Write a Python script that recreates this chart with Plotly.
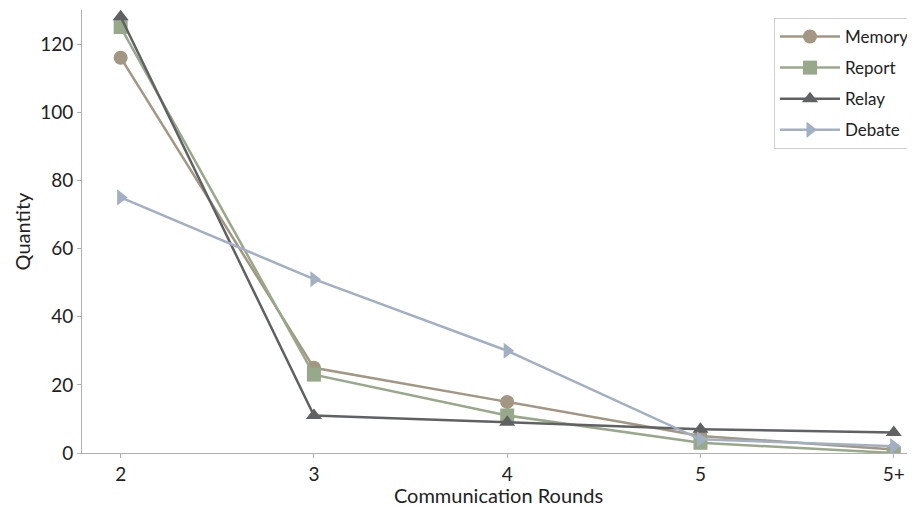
import plotly.graph_objects as go

rounds = ["2", "3", "4", "5", "5+"]
memory = [116, 25, 15, 5, 1]
report = [125, 23, 11, 3, 0]
relay = [128, 11, 9, 7, 6]
debate = [75, 51, 30, 4, 2]

series = [
    ("Memory", memory, "#a39683", "circle"),
    ("Report", report, "#98a88b", "square"),
    ("Relay", relay, "#606163", "triangle-up"),
    ("Debate", debate, "#a3afc2", "triangle-right"),
]

fig = go.Figure()
for name, vals, color, sym in series:
    fig.add_trace(go.Scatter(
        x=rounds, y=vals, name=name, mode="lines+markers",
        legendgroup=name,
        line=dict(color=color, width=2.5),
        marker=dict(symbol=sym, size=14, color=color),
    ))

font_family = "Lato, Open Sans, sans-serif"
fig.update_layout(
    width=907, height=499,
    margin=dict(l=74, r=0, t=2, b=54),
    plot_bgcolor="white", paper_bgcolor="white",
    font=dict(family=font_family, size=19, color="#222"),
    legend=dict(x=1, xanchor="right", y=0.982, yanchor="top",
                bordercolor="#d0d0d0", borderwidth=1,
                font=dict(size=17), itemwidth=60,
                tracegroupgap=6),
    xaxis=dict(
        type="category", range=[-0.2, 4.11],
        title=dict(text="Communication Rounds", font=dict(size=20), standoff=2),
        showline=True, linecolor="#b0b0b0", linewidth=1,
        ticks="outside", ticklen=4, tickcolor="#b0b0b0",
        showgrid=False, zeroline=False,
    ),
    yaxis=dict(
        range=[0, 130], tickvals=[0, 20, 40, 60, 80, 100, 120],
        title=dict(text="Quantity", font=dict(size=20), standoff=4),
        showline=True, linecolor="#b0b0b0", linewidth=1,
        ticks="outside", ticklen=4, tickcolor="#b0b0b0",
        showgrid=False, zeroline=False,
    ),
)

fig.write_html("out.html")
